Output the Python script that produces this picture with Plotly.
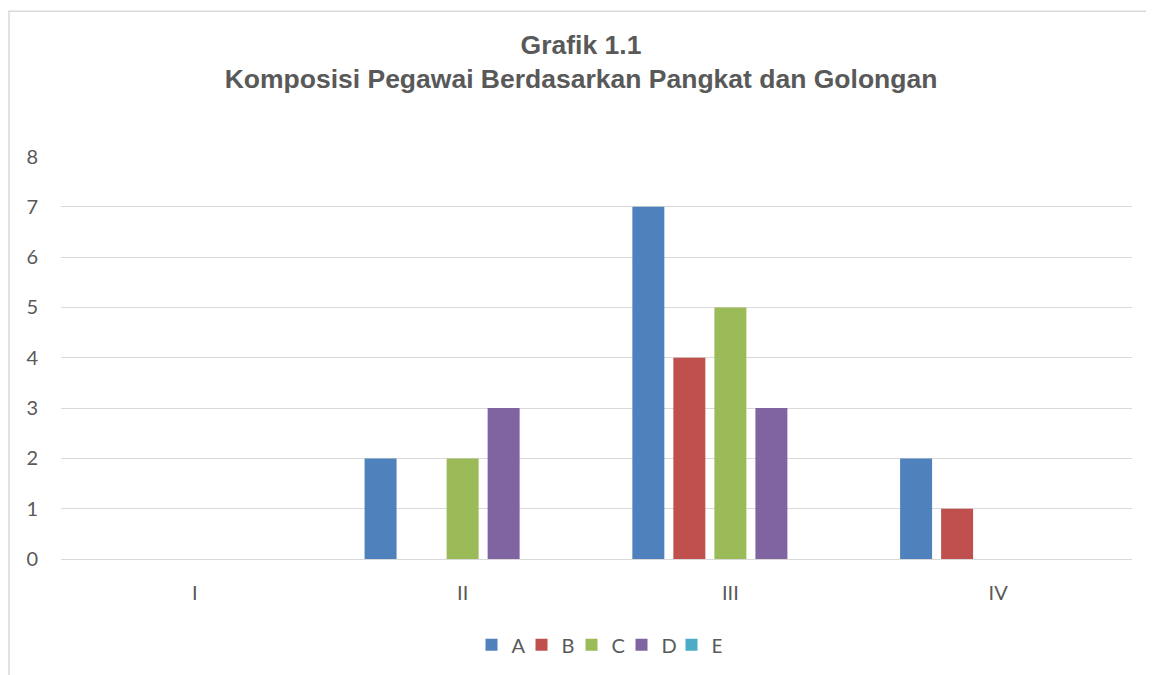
import plotly.graph_objects as go

categories = ["I", "II", "III", "IV"]
series_names = ["A", "B", "C", "D", "E"]
A = [0, 2, 7, 2]
B = [0, 0, 4, 1]
C = [0, 2, 5, 0]
D = [0, 3, 3, 0]
E = [0, 0, 0, 0]
values = [A, B, C, D, E]
colors = ["#4f81bd", "#c0504d", "#9bbb59", "#8064a2", "#4bacc6"]
y_ticks = [0, 1, 2, 3, 4, 5, 6, 7, 8]

fig = go.Figure()
for name, vals, col in zip(series_names, values, colors):
    fig.add_trace(go.Bar(x=categories, y=vals, name=name,
                         marker=dict(color=col, line=dict(width=0))))

fig.update_layout(
    width=1146, height=667,
    margin=dict(l=53, r=22, t=148, b=115),
    paper_bgcolor="white", plot_bgcolor="white",
    barmode="group", bargap=0.234, bargroupgap=0.22,
    title=dict(text="<b>Grafik 1.1<br>Komposisi Pegawai Berdasarkan Pangkat dan Golongan</b>",
               x=0.5, xanchor="center", y=0.931, yanchor="middle",
               font=dict(family="Liberation Sans, Arial", size=26.5, color="#595959")),
    font=dict(family="Lato, Calibri, sans-serif", size=20, color="#595959"),
    legend=dict(orientation="h", x=0.5, xanchor="center", y=-0.21, yanchor="middle",
                font=dict(size=20, color="#595959"), entrywidth=5,
                entrywidthmode="pixels", traceorder="normal"),
    showlegend=True,
)
fig.update_yaxes(range=[0, 8.01], tickvals=y_ticks, showgrid=True, gridcolor="#d9d9d9",
                 gridwidth=1.3, zeroline=False, showline=False, ticks="",
                 ticklabelstandoff=22, fixedrange=True)
fig.update_xaxes(showgrid=False, showline=True, linecolor="#d9d9d9", linewidth=1.3,
                 ticks="", ticklabelstandoff=16)
fig.add_shape(type="rect", xref="paper", yref="paper", x0=-0.0486, y0=-0.6,
              x1=1.2, y1=1.359, line=dict(color="#d9d9d9", width=1.5),
              fillcolor="rgba(0,0,0,0)", layer="below")

fig.write_html("out.html")
